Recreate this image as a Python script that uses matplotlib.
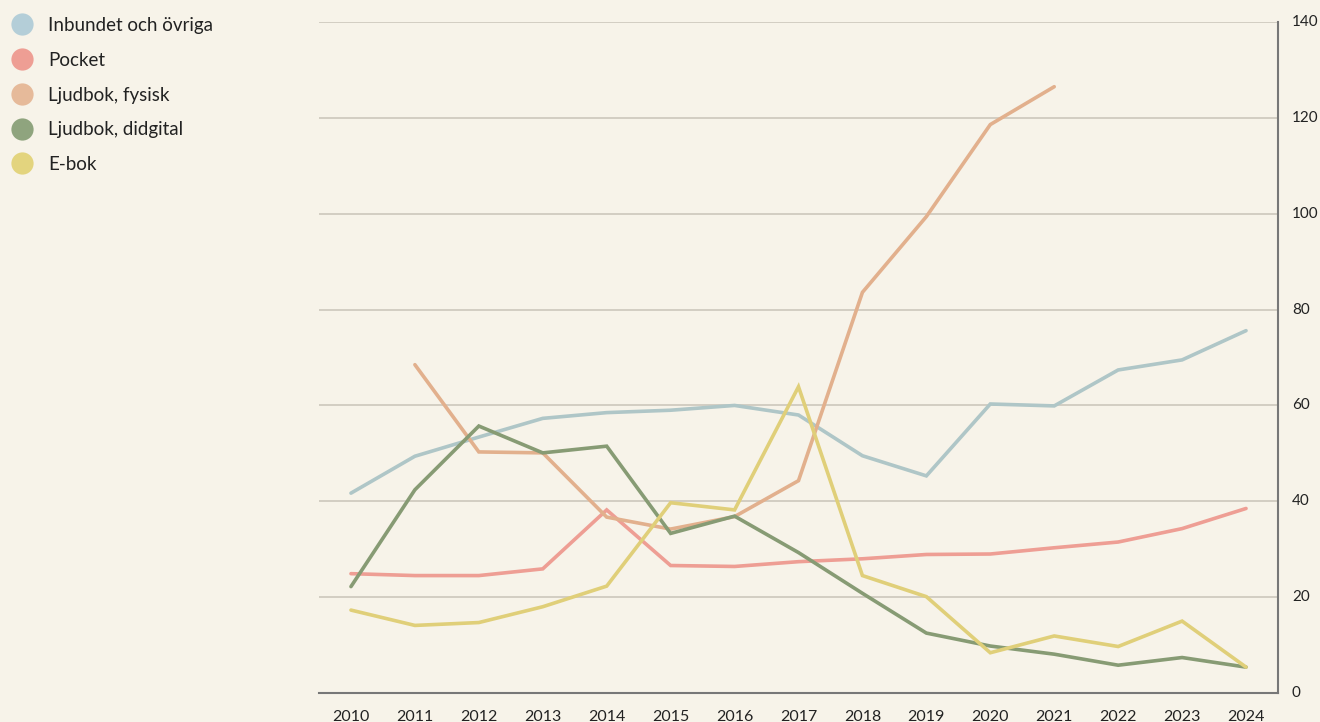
import matplotlib
matplotlib.use("Agg")
import matplotlib.pyplot as plt
from matplotlib.lines import Line2D
import numpy as np

years = list(range(2010, 2025))
inbundet = [41.7, 49.4, 53.4, 57.3, 58.5, 59.0, 60.0, 58.0, 49.5, 45.3, 60.3, 59.9, 67.4, 69.5, 75.6]
pocket = [24.9, 24.5, 24.5, 25.9, 38.2, 26.6, 26.4, 27.4, 28.0, 28.9, 29.0, 30.3, 31.5, 34.3, 38.5]
ljud_fysisk = [None, 68.5, 50.3, 50.1, 36.7, 34.2, 36.8, 44.3, 83.6, 99.4, 118.6, 126.5, None, None, None]
ljud_digital = [22.2, 42.4, 55.7, 50.1, 51.5, 33.3, 36.9, 29.3, 20.8, 12.5, 9.8, 8.1, 5.8, 7.4, 5.4]
ebok = [17.3, 14.1, 14.7, 18.0, 22.3, 39.7, 38.2, 63.9, 24.5, 20.1, 8.4, 11.9, 9.7, 15.0, 5.4]

labels = ["Inbundet och övriga", "Pocket", "Ljudbok, fysisk", "Ljudbok, didgital", "E-bok"]
line_colors = ["#AFC6C7", "#EE9E94", "#E2B08D", "#879B74", "#E0CF79"]
dot_colors = ["#B4CED8", "#EE9E94", "#E6BA9A", "#8FA47E", "#E3D47E"]
yticks = [0, 20, 40, 60, 80, 100, 120, 140]

bg = "#F7F3E9"
plt.rcParams['font.family'] = ['Lato', 'DejaVu Sans']

fig = plt.figure(figsize=(13.2, 7.22), dpi=100, facecolor=bg)
W, H = 1320, 722
ax = fig.add_axes([319 / W, 1 - 693 / H, (1278 - 319) / W, (693 - 22) / H])
ax.set_facecolor(bg)

series = [inbundet, pocket, ljud_fysisk, ljud_digital, ebok]
for vals, c in zip(series, line_colors):
    y = np.array([np.nan if v is None else v for v in vals], dtype=float)
    ax.plot(years, y, color=c, lw=2.6, solid_joinstyle='miter', solid_capstyle='round', zorder=3)

ax.set_xlim(2009.5, 2024.5)
ax.set_ylim(0, 140)
ax.set_xticks(years)
ax.set_xticklabels([str(y) for y in years], fontsize=11.5, color="#222222")
ax.set_yticks(yticks)
ax.yaxis.tick_right()
ax.set_yticklabels([str(v) for v in yticks], fontsize=11, color="#222222")
ax.tick_params(axis='both', length=0)
ax.tick_params(axis='y', pad=10)
ax.tick_params(axis='x', pad=12)
for t in ax.get_yticklabels():
    t.set_verticalalignment('center')

ax.grid(axis='y', color="#CCC7BC", lw=1.2, zorder=1)
ax.grid(axis='x', visible=False)
for s in ['top', 'left']:
    ax.spines[s].set_visible(False)
ax.spines['bottom'].set_color("#777777")
ax.spines['bottom'].set_linewidth(1.5)
ax.spines['right'].set_color("#777777")
ax.spines['right'].set_linewidth(1.5)

legend_y = [24, 59, 94, 129, 163]
for lab, c, yy in zip(labels, dot_colors, legend_y):
    fig.add_artist(Line2D([22 / W], [1 - yy / H], marker='o', markersize=16, color=c,
                          markeredgewidth=0, linestyle='None', transform=fig.transFigure))
    fig.text(48 / W, 1 - (yy + 1) / H, lab, fontsize=13.5, color="#222222", va='center', ha='left')

fig.savefig("out.png", dpi=100, facecolor=bg)
